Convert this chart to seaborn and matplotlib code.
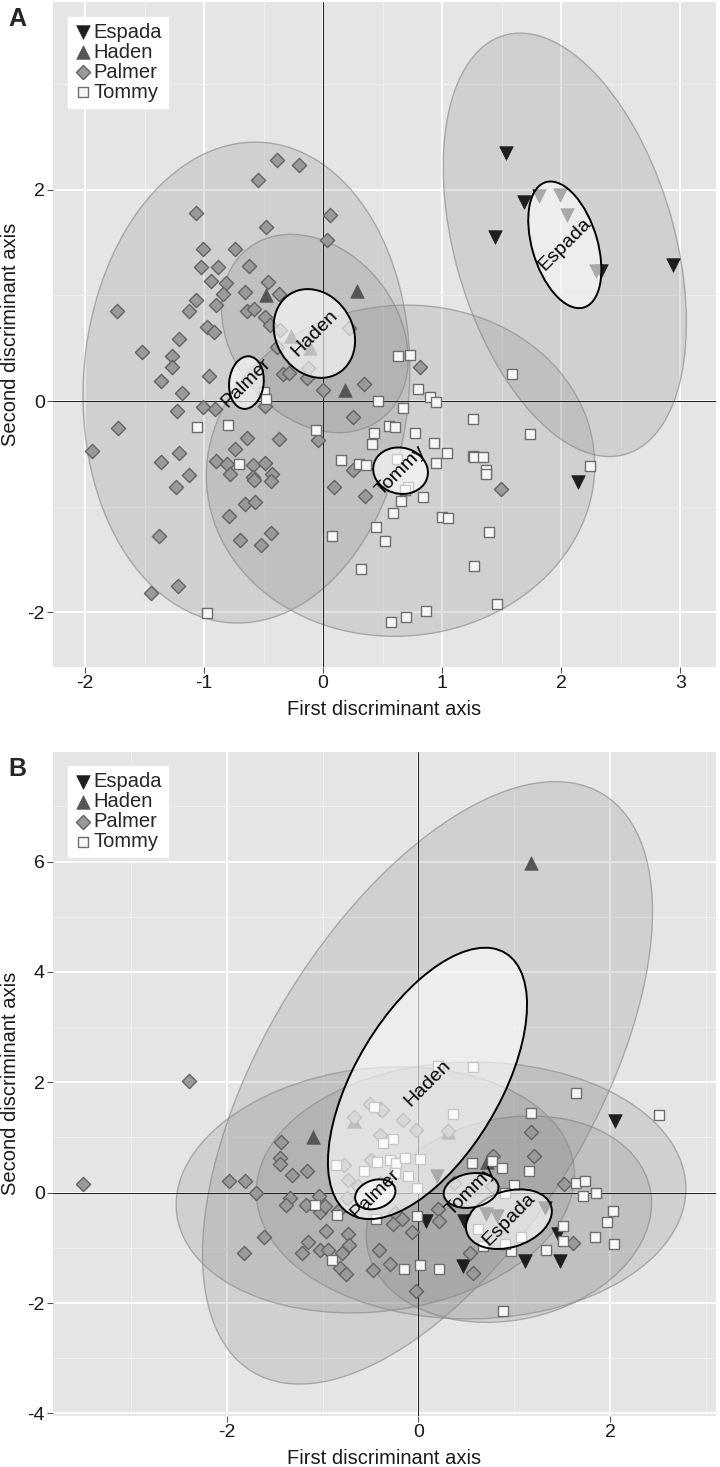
import numpy as np
import matplotlib
matplotlib.use('Agg')
import matplotlib.pyplot as plt
from matplotlib.patches import Ellipse
from matplotlib.ticker import MultipleLocator
import seaborn as sns

cultivars = ['Espada', 'Haden', 'Palmer', 'Tommy']

# ---- Panel A: scores on the two discriminant axes ----
a_espada_x = [1.54, 1.69, 1.44, 2.94, 2.33, 1.81, 1.99, 2.05, 2.29, 2.14]
a_espada_y = [2.35, 1.89, 1.55, 1.29, 1.23, 1.94, 1.95, 1.76, 1.23, -0.77]
a_haden_x = [-0.48, 0.28, 0.18, -0.27, -0.11]
a_haden_y = [1.00, 1.04, 0.10, 0.62, 0.50]
a_palmer_x = [-0.39, -0.20, -0.55, -1.07, 0.06, -0.48, 0.03, -1.01, -0.74, -1.03, -0.88, -0.62,
              -0.94, -0.82, -0.46, -0.84, -0.66, -0.37, -1.07, -0.90, -1.13, -1.73, -0.64, -0.58,
              -0.49, -0.98, -0.92, -1.21, -1.52, -1.27, -1.27, -1.36, -0.96, -1.19, -1.23, -1.01,
              -0.91, -0.49, -0.39, -0.34, -0.29, -0.14, -0.45, -0.36, 0.22, -0.13, 0.00, 0.34,
              0.81, 0.25, -0.64, -0.74, -0.37, -0.04, -1.72, -1.94, -1.21, -1.36, -1.13, -1.24,
              -0.90, -0.81, -0.78, -0.59, -0.49, -0.43, -0.59, -0.58, -0.44, 0.09, -0.66, -0.57,
              -0.79, -1.38, -0.70, -0.44, -0.52, -1.22, -1.45, 0.25, 0.35, 1.49]
a_palmer_y = [2.28, 2.24, 2.09, 1.78, 1.76, 1.65, 1.53, 1.44, 1.44, 1.27, 1.27, 1.28,
              1.14, 1.12, 1.13, 1.01, 1.03, 1.01, 0.96, 0.91, 0.85, 0.85, 0.85, 0.87,
              0.80, 0.70, 0.65, 0.59, 0.46, 0.43, 0.32, 0.19, 0.24, 0.08, -0.09, -0.06,
              -0.08, -0.05, 0.51, 0.26, 0.27, 0.22, 0.72, 0.67, 0.69, 0.31, 0.10, 0.16,
              0.32, -0.15, -0.35, -0.45, -0.36, -0.37, -0.26, -0.47, -0.49, -0.58, -0.70, -0.81,
              -0.57, -0.60, -0.69, -0.61, -0.59, -0.69, -0.72, -0.75, -0.76, -0.81, -0.98, -0.96,
              -1.09, -1.28, -1.32, -1.25, -1.36, -1.75, -1.82, -0.65, -0.90, -0.83]
a_tommy_x = [-0.50, -0.48, -1.06, -0.80, -0.06, -0.71, 0.15, 0.30, 0.07, -0.98, 0.32, 0.63,
             0.73, 0.46, 0.80, 0.90, 0.95, 0.67, 1.26, 0.43, 0.55, 0.60, 0.77, 0.41,
             0.93, 1.04, 1.26, 1.59, 1.74, 0.95, 1.27, 1.34, 1.37, 1.37, 0.36, 0.62,
             0.71, 0.69, 0.84, 0.65, 0.59, 1.00, 1.05, 0.44, 0.52, 1.39, 1.27, 2.24,
             1.46, 0.86, 0.70, 0.57]
a_tommy_y = [0.09, 0.02, -0.25, -0.23, -0.27, -0.60, -0.56, -0.60, -1.28, -2.01, -1.59, 0.43,
             0.44, 0.00, 0.11, 0.04, -0.01, -0.07, -0.17, -0.30, -0.24, -0.25, -0.30, -0.41,
             -0.40, -0.49, -0.52, 0.26, -0.31, -0.59, -0.53, -0.53, -0.65, -0.69, -0.61, -0.55,
             -0.81, -0.84, -0.91, -0.95, -1.06, -1.10, -1.11, -1.19, -1.33, -1.24, -1.56, -0.62,
             -1.92, -1.99, -2.05, -2.09]

# ellipses for panel A (order: Espada, Haden, Palmer, Tommy)
a_big_cx = [2.03, -0.07, -0.645, 0.65]
a_big_cy = [1.48, 0.64, 0.175, -0.66]
a_big_a = [2.05, 0.99, 2.28, 1.64]
a_big_b = [0.93, 0.72, 1.37, 1.56]
a_big_ang = [103.4, 117.3, 87.1, 19.3]
a_small_cx = [2.03, -0.074, -0.645, 0.65]
a_small_cy = [1.48, 0.64, 0.175, -0.66]
a_small_a = [0.615, 0.43, 0.25, 0.235]
a_small_b = [0.276, 0.33, 0.145, 0.215]
a_small_ang = [104.2, 109.0, 85.0, 150.0]

# ---- Panel B ----
b_espada_x = [0.08, 0.47, 1.11, 1.48, 1.46, 2.05, 0.19, 0.71, 0.82, 1.32, 0.48]
b_espada_y = [-0.51, -1.33, -1.24, -1.24, -0.75, 1.29, 0.30, -0.39, -0.42, -0.28, -0.51]
b_haden_x = [-1.10, 1.18, -0.67, 0.31, 0.72]
b_haden_y = [1.01, 5.97, 1.30, 1.10, 0.55]
b_palmer_x = [-3.50, -2.39, -1.43, -1.45, -1.44, -1.32, -1.16, -1.98, -1.81, -1.70, -1.34, -1.38,
              -1.17, -1.04, -1.03, -0.97, -0.84, -1.61, -1.82, -0.96, -0.73, -0.72, -1.15, -1.21,
              -1.03, -0.94, -0.80, -0.82, -0.76, -0.78, -0.74, -0.75, -0.67, -0.50, -0.40, -0.40,
              -0.49, -0.63, -0.40, 1.18, 1.21, -0.03, -0.16, -0.38, 0.31, 0.78, 1.52, 0.77,
              0.37, 0.21, 0.22, -0.24, -0.17, -0.07, 1.61, 0.54, 0.57, -0.03, -0.30, -0.47,
              -0.41, -0.26]
b_palmer_y = [0.16, 2.02, 0.92, 0.63, 0.52, 0.32, 0.39, 0.21, 0.21, 0.00, -0.10, -0.23,
              -0.23, -0.06, -0.35, -0.24, -0.33, -0.81, -1.09, -0.69, -0.74, -0.95, -0.89, -1.09,
              -1.03, -1.03, -1.09, -1.36, -1.48, 0.51, 0.23, -0.09, 1.38, 1.60, 1.51, 1.05,
              0.60, 0.12, 0.18, 1.10, 0.67, 1.14, 1.31, 1.49, 1.12, 0.67, 0.15, 0.12,
              0.18, -0.30, -0.51, -0.36, -0.48, -0.71, -0.92, -1.09, -1.46, -1.78, -1.30, -1.41,
              -1.04, -0.57]
b_tommy_x = [-0.86, -1.08, -0.85, -0.90, -0.46, -0.27, -0.37, -0.57, -0.43, -0.30, -0.23, -0.44,
             0.21, 0.57, 1.65, 1.18, 0.36, 0.02, -0.14, -0.11, -0.24, -0.01, 0.56, 0.77,
             0.87, 1.15, 1.00, 1.65, 1.74, 1.72, 1.85, 2.03, 1.97, 0.90, -0.01, 1.51,
             0.62, 2.51, 1.84, 2.04, 1.51, 1.33, 1.07, 0.97, 0.90, 0.67, 0.22, 0.02,
             -0.15, 0.88]
b_tommy_y = [0.51, -0.22, -0.40, -1.22, 1.55, 0.98, 0.90, 0.39, 0.55, 0.59, 0.53, -0.48,
             2.30, 2.28, 1.80, 1.45, 1.42, 0.61, 0.63, 0.31, 0.36, 0.08, 0.53, 0.57,
             0.45, 0.39, 0.14, 0.18, 0.21, -0.06, -0.01, -0.34, -0.54, 0.00, -0.42, -0.61,
             -0.65, 1.40, -0.80, -0.93, -0.87, -1.04, -0.81, -1.06, -0.93, -0.96, -1.39, -1.31,
             -1.39, -2.15]

b_big_cx = [0.945, 0.095, -0.45, 0.55]
b_big_cy = [-0.48, 1.99, 0.05, 0.04]
b_big_a = [1.905, 5.64, 2.30, 2.33]
b_big_b = [1.445, 1.87, 2.00, 2.24]
b_big_ang = [73.0, 74.5, 60.0, 80.0]
b_small_cx = [0.945, 0.095, -0.45, 0.55]
b_small_cy = [-0.48, 1.98, -0.03, 0.04]
b_small_a = [0.57, 2.54, 0.28, 0.33]
b_small_b = [0.41, 0.82, 0.20, 0.27]
b_small_ang = [62.8, 74.6, 70.0, 60.0]

sns.set_theme(style='darkgrid')
plt.rcParams['font.family'] = ['Liberation Sans', 'DejaVu Sans']
plt.rcParams['axes.unicode_minus'] = False

marker_style = {
    'Espada': dict(marker='v', s=95, color='#1e1e1e', edgecolor='#1e1e1e', linewidth=0.5),
    'Haden': dict(marker='^', s=95, color='#555555', edgecolor='#555555', linewidth=0.5),
    'Palmer': dict(marker='D', s=52, color='#9a9a9a', edgecolor='#636363', linewidth=1.0),
    'Tommy': dict(marker='s', s=62, color='#f7f7f7', edgecolor='#6e6e6e', linewidth=1.0),
}


def draw_panel(ax, pts, big, small, xlim, ylim, xmaj, ymaj, letter):
    ax.set_facecolor('#E5E5E5')
    ax.set_xlim(*xlim)
    ax.set_ylim(*ylim)
    ax.xaxis.set_major_locator(MultipleLocator(xmaj))
    ax.yaxis.set_major_locator(MultipleLocator(ymaj))
    ax.xaxis.set_minor_locator(MultipleLocator(xmaj / 2))
    ax.yaxis.set_minor_locator(MultipleLocator(ymaj / 2))
    ax.grid(which='major', color='white', linewidth=1.3)
    ax.grid(which='minor', color='#F2F2F2', linewidth=0.6)
    ax.set_axisbelow(True)
    for sp in ax.spines.values():
        sp.set_visible(False)

    # large data ellipses
    for cx, cy, a, b, ang in zip(*big):
        ax.add_patch(Ellipse((cx, cy), 2 * a, 2 * b, angle=ang, facecolor=(0.5, 0.5, 0.5, 0.2),
                             edgecolor=(0.55, 0.55, 0.55, 0.65), linewidth=1.0, zorder=1))

    ax.axhline(0, color='#1a1a1a', linewidth=0.7, zorder=1.5)
    ax.axvline(0, color='#1a1a1a', linewidth=0.7, zorder=1.5)

    for name, (xs, ys) in zip(cultivars, pts):
        sns.scatterplot(x=xs, y=ys, ax=ax, label=name, zorder=3, **marker_style[name])

    # small ellipses around the group means
    for (cx, cy, a, b, ang), name in zip(zip(*small), cultivars):
        ax.add_patch(Ellipse((cx, cy), 2 * a, 2 * b, angle=ang, facecolor=(1, 1, 1, 0.62),
                             edgecolor='black', linewidth=1.4, zorder=4))
        ax.text(cx, cy, name, rotation=45, ha='center', va='center', fontsize=14,
                rotation_mode='anchor', zorder=5, color='black')

    leg = ax.legend(loc='upper left', bbox_to_anchor=(0.022, 0.978), borderaxespad=0,
                    frameon=True, fancybox=False, fontsize=14.5, handletextpad=0.1,
                    labelspacing=0.05, borderpad=0.3, handlelength=0.9, markerscale=1.0)
    leg.get_frame().set_facecolor('white')
    leg.get_frame().set_edgecolor('white')
    leg.get_frame().set_alpha(1)
    leg.set_zorder(10)

    ax.tick_params(which='major', length=4, width=0.8, color='#555555', labelsize=14,
                   labelcolor='#1a1a1a', pad=2, bottom=True, left=True)
    ax.tick_params(which='minor', length=0)
    ax.set_xlabel('First discriminant axis', fontsize=14.5, color='#1a1a1a', va='center')
    ax.set_ylabel('Second discriminant axis', fontsize=14.5, color='#1a1a1a', va='center')
    ax.xaxis.set_label_coords(0.5, -0.064)
    ax.yaxis.set_label_coords(-0.064, 0.5)
    ax.text(-0.068, 0.992, letter, transform=ax.transAxes, fontsize=18, fontweight='bold',
            ha='left', va='top')


fig = plt.figure(figsize=(7.2, 14.67), dpi=100)
fig.patch.set_facecolor('white')
axA = fig.add_axes([0.0736, 0.5453, 0.9208, 0.4533])
axB = fig.add_axes([0.0736, 0.0350, 0.9208, 0.4526])

draw_panel(axA,
           [(a_espada_x, a_espada_y), (a_haden_x, a_haden_y),
            (a_palmer_x, a_palmer_y), (a_tommy_x, a_tommy_y)],
           (a_big_cx, a_big_cy, a_big_a, a_big_b, a_big_ang),
           (a_small_cx, a_small_cy, a_small_a, a_small_b, a_small_ang),
           (-2.27, 3.30), (-2.52, 3.78), 1, 2, 'A')
draw_panel(axB,
           [(b_espada_x, b_espada_y), (b_haden_x, b_haden_y),
            (b_palmer_x, b_palmer_y), (b_tommy_x, b_tommy_y)],
           (b_big_cx, b_big_cy, b_big_a, b_big_b, b_big_ang),
           (b_small_cx, b_small_cy, b_small_a, b_small_b, b_small_ang),
           (-3.815, 3.107), (-4.04, 7.99), 2, 2, 'B')

fig.savefig('out.png', dpi=100)
